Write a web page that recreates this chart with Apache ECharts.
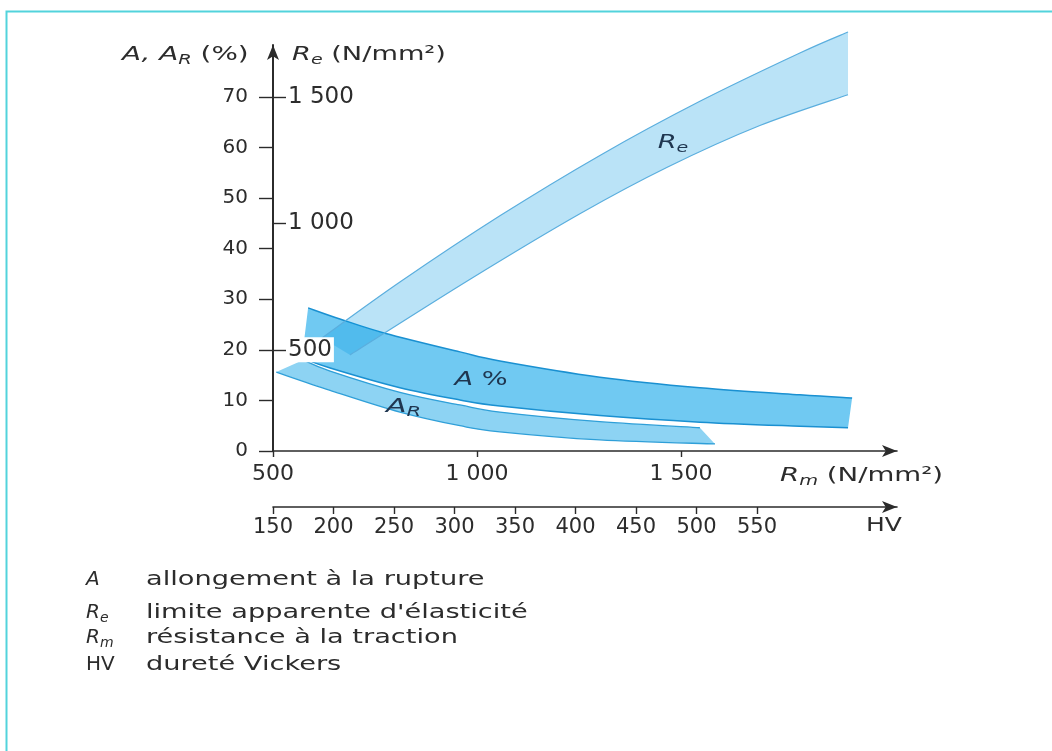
<!DOCTYPE html>
<html>
<head>
<meta charset="utf-8">
<script src="https://cdn.jsdelivr.net/npm/echarts@6/dist/echarts.min.js"></script>
<style>
  html, body { margin: 0; padding: 0; background: #ffffff; }
  #chart { width: 1052px; height: 751px; }
</style>
</head>
<body>
<div id="chart"></div>
<script>
// Tick values of the four scales
const rmTicks = [500, 1000, 1500];
const hvTicks = [150, 200, 250, 300, 350, 400, 450, 500, 550];
const aTicks = [0, 10, 20, 30, 40, 50, 60, 70];
const reTicks = [500, 1000, 1500];

// Elongation band A (%) against Rm (N/mm²): upper and lower limits
const aUpper = [[586, 28.3], [664, 26.1], [774, 23.3], [958, 19.6], [1056, 17.8], [1301, 14.6], [1546, 12.5], [1791, 11.1], [1919, 10.5]];
const aLower = [[571, 18.4], [640, 16.4], [811, 12.5], [958, 10.1], [1056, 8.9], [1301, 7.0], [1546, 5.7], [1791, 4.9], [1909, 4.6]];

// Reduction band A_R (%) against Rm
const arUpper = [[574, 18.0], [640, 15.8], [811, 11.6], [958, 9.1], [1056, 7.7], [1301, 5.8], [1546, 4.6]];
const arLower = [[508, 15.6], [640, 12.0], [811, 7.7], [958, 5.0], [1056, 3.8], [1301, 2.2], [1583, 1.4]];

// Yield strength band Re (N/mm²) against Rm
const reUpper = [[620, 547], [811, 768], [1056, 1030], [1301, 1269], [1546, 1483], [1791, 1674], [1909, 1757]];
const reLower = [[689, 480], [983, 779], [1252, 1038], [1466, 1222], [1693, 1387], [1909, 1509]];

// Legend rows: symbol, subscript, description
const legendSymbols = [['A', ''], ['R', 'e'], ['R', 'm'], ['HV', '']];
const legendTexts = ['allongement à la rupture', "limite apparente d'élasticité", 'résistance à la traction', 'dureté Vickers'];

const FONT = '"DejaVu Sans", Verdana, sans-serif';
const TXT = '#2c2c2c';
const NAVY = '#1f3650';
const FS = 20;
const SX = 1.36;

const rich = {
  it: { fontStyle: 'italic', fontSize: FS, fontFamily: FONT, lineHeight: 24, fill: TXT },
  sub: { fontStyle: 'italic', fontSize: 14, fontFamily: FONT, lineHeight: 12, verticalAlign: 'bottom', fill: TXT },
  n: { fontSize: FS, fontFamily: FONT, lineHeight: 24, fill: TXT },
  bit: { fontStyle: 'italic', fontSize: FS, fontFamily: FONT, lineHeight: 24, fill: NAVY },
  bsub: { fontStyle: 'italic', fontSize: 14, fontFamily: FONT, lineHeight: 12, verticalAlign: 'bottom', fill: NAVY },
  bn: { fontSize: FS, fontFamily: FONT, lineHeight: 24, fill: NAVY }
};

function spaced(v) {
  return String(v).replace(/\B(?=(\d{3})+(?!\d))/g, ' ');
}

// Smooth curve through pixel points (Catmull-Rom as cubic Bézier segments)
function curve(p) {
  let d = '';
  for (let i = 0; i < p.length - 1; i++) {
    const p0 = p[Math.max(i - 1, 0)], p1 = p[i], p2 = p[i + 1], p3 = p[Math.min(i + 2, p.length - 1)];
    const c1 = [p1[0] + (p2[0] - p0[0]) / 6, p1[1] + (p2[1] - p0[1]) / 6];
    const c2 = [p2[0] - (p3[0] - p1[0]) / 6, p2[1] - (p3[1] - p1[1]) / 6];
    d += ' C' + c1[0] + ' ' + c1[1] + ' ' + c2[0] + ' ' + c2[1] + ' ' + p2[0] + ' ' + p2[1];
  }
  return d;
}

function bandRenderer(upper, lower, look, label) {
  return function (params, api) {
    const up = upper.map(function (p) { return api.coord(p); });
    const lo = lower.map(function (p) { return api.coord(p); });
    const loRev = lo.slice().reverse();
    const fillPath = 'M' + up[0][0] + ' ' + up[0][1] + curve(up) +
      ' L' + loRev[0][0] + ' ' + loRev[0][1] + curve(loRev) + ' Z';
    const children = [
      { type: 'path', shape: { pathData: fillPath }, style: { fill: look.fill, stroke: null } },
      { type: 'path', shape: { pathData: 'M' + up[0][0] + ' ' + up[0][1] + curve(up) }, style: { fill: null, stroke: look.edge, lineWidth: look.width } },
      { type: 'path', shape: { pathData: 'M' + lo[0][0] + ' ' + lo[0][1] + curve(lo) }, style: { fill: null, stroke: look.edge, lineWidth: look.width } }
    ];
    if (label) {
      const c = api.coord(label.at);
      children.push({
        type: 'text', x: c[0], y: c[1], scaleX: label.scale || SX,
        style: { text: label.text, rich: rich, align: 'center', verticalAlign: 'middle' }
      });
    }
    return { type: 'group', children: children };
  };
}

const chart = echarts.init(document.getElementById('chart'), null, { renderer: 'canvas' });

const axisLineStyle = { color: '#2b2b2b', width: 1.6 };
const tickStyle = { color: '#2b2b2b', width: 1.4 };
function labelStyle(size) {
  return { fontSize: size, fontFamily: FONT, color: TXT };
}

const graphics = [
  // frame
  { type: 'rect', shape: { x: 6.5, y: 11.5, width: 1100, height: 800 }, style: { fill: null, stroke: '#52d3dc', lineWidth: 2 }, silent: true },
  // axis titles
  { type: 'text', x: 122, y: 55, scaleX: 1.39, style: { text: '{it|A, A}{sub|R}{n| (%)}', rich: rich, verticalAlign: 'middle' } },
  { type: 'text', x: 292, y: 55, scaleX: SX, style: { text: '{it|R}{sub|e}{n| (N/mm²)}', rich: rich, verticalAlign: 'middle' } },
  { type: 'text', x: 780, y: 476, scaleX: 1.38, style: { text: '{it|R}{sub|m}{n| (N/mm²)}', rich: rich, verticalAlign: 'middle' } },
  { type: 'text', x: 866, y: 526, scaleX: 1.25, style: { text: '{n|HV}', rich: rich, verticalAlign: 'middle' } }
];

const legendY = [580, 613, 638, 665];
legendSymbols.forEach(function (s, i) {
  const sym = s[0] === 'HV' ? '{n|HV}' : ('{it|' + s[0] + '}' + (s[1] ? '{sub|' + s[1] + '}' : ''));
  graphics.push({ type: 'text', x: 86, y: legendY[i], style: { text: sym, rich: rich, verticalAlign: 'middle' } });
  graphics.push({ type: 'text', x: 146, y: legendY[i], scaleX: SX, style: { text: '{n|' + legendTexts[i] + '}', rich: rich, verticalAlign: 'middle' } });
});

const option = {
  animation: false,
  backgroundColor: '#ffffff',
  grid: { left: 273, top: 44.9, width: 624, height: 406.1, containLabel: false },
  xAxis: [
    {
      type: 'value', min: 500, max: 2029, position: 'bottom',
      axisLine: { show: true, onZero: false, lineStyle: axisLineStyle, symbol: ['none', 'arrow'], symbolSize: [9, 15] },
      axisTick: { show: true, length: 6, customValues: rmTicks, lineStyle: tickStyle },
      axisLabel: Object.assign({ customValues: rmTicks, margin: 12, formatter: spaced }, labelStyle(22)),
      splitLine: { show: false }
    },
    {
      type: 'value', min: 150, max: 665.7, position: 'bottom', offset: 56,
      axisLine: { show: true, onZero: false, lineStyle: axisLineStyle, symbol: ['none', 'arrow'], symbolSize: [9, 15] },
      axisTick: { show: true, length: 7, customValues: hvTicks, lineStyle: tickStyle },
      axisLabel: Object.assign({ customValues: hvTicks, margin: 10 }, labelStyle(21)),
      splitLine: { show: false }
    }
  ],
  yAxis: [
    {
      type: 'value', min: 0, max: 80.3, position: 'left',
      axisLine: { show: true, onZero: false, lineStyle: { color: '#2b2b2b', width: 2 }, symbol: ['none', 'arrow'], symbolSize: [9, 15] },
      axisTick: { show: true, length: 14, customValues: aTicks, lineStyle: tickStyle },
      axisLabel: Object.assign({ customValues: aTicks, margin: 25 }, labelStyle(20)),
      splitLine: { show: false }
    },
    {
      type: 'value', min: 100, max: 1706, position: 'left', z: 10,
      axisLine: { show: false },
      axisTick: { show: true, inside: true, length: 13, customValues: reTicks, lineStyle: tickStyle },
      axisLabel: Object.assign({
        inside: true, customValues: reTicks, margin: 13,
        formatter: spaced, backgroundColor: '#ffffff', padding: [1, 2, 1, 2]
      }, labelStyle(23)),
      splitLine: { show: false }
    }
  ],
  series: [
    {
      type: 'custom', name: 'A_R', xAxisIndex: 0, yAxisIndex: 0, silent: true, clip: false,
      data: [[500, 0]],
      renderItem: bandRenderer(arUpper, arLower, { fill: '#8dd3f3', edge: '#2f9fd8', width: 1.3 },
        { at: [820, 8.7], text: '{bit|A}{bsub|R}', scale: 1.5 })
    },
    {
      type: 'custom', name: 'A', xAxisIndex: 0, yAxisIndex: 0, silent: true, clip: false,
      data: [[500, 0]],
      renderItem: bandRenderer(aUpper, aLower, { fill: '#70c9f2', edge: '#1a90d1', width: 1.5 },
        { at: [1010, 14.0], text: '{bit|A}{bn| %}' })
    },
    {
      type: 'custom', name: 'Re', xAxisIndex: 0, yAxisIndex: 1, silent: true, clip: false,
      data: [[500, 100]],
      renderItem: bandRenderer(reUpper, reLower, { fill: 'rgba(0,150,225,0.27)', edge: '#5aaede', width: 1.2 },
        { at: [1480, 1318], text: '{bit|R}{bsub|e}' })
    }
  ],
  graphic: graphics
};

chart.setOption(option);
</script>
</body>
</html>
